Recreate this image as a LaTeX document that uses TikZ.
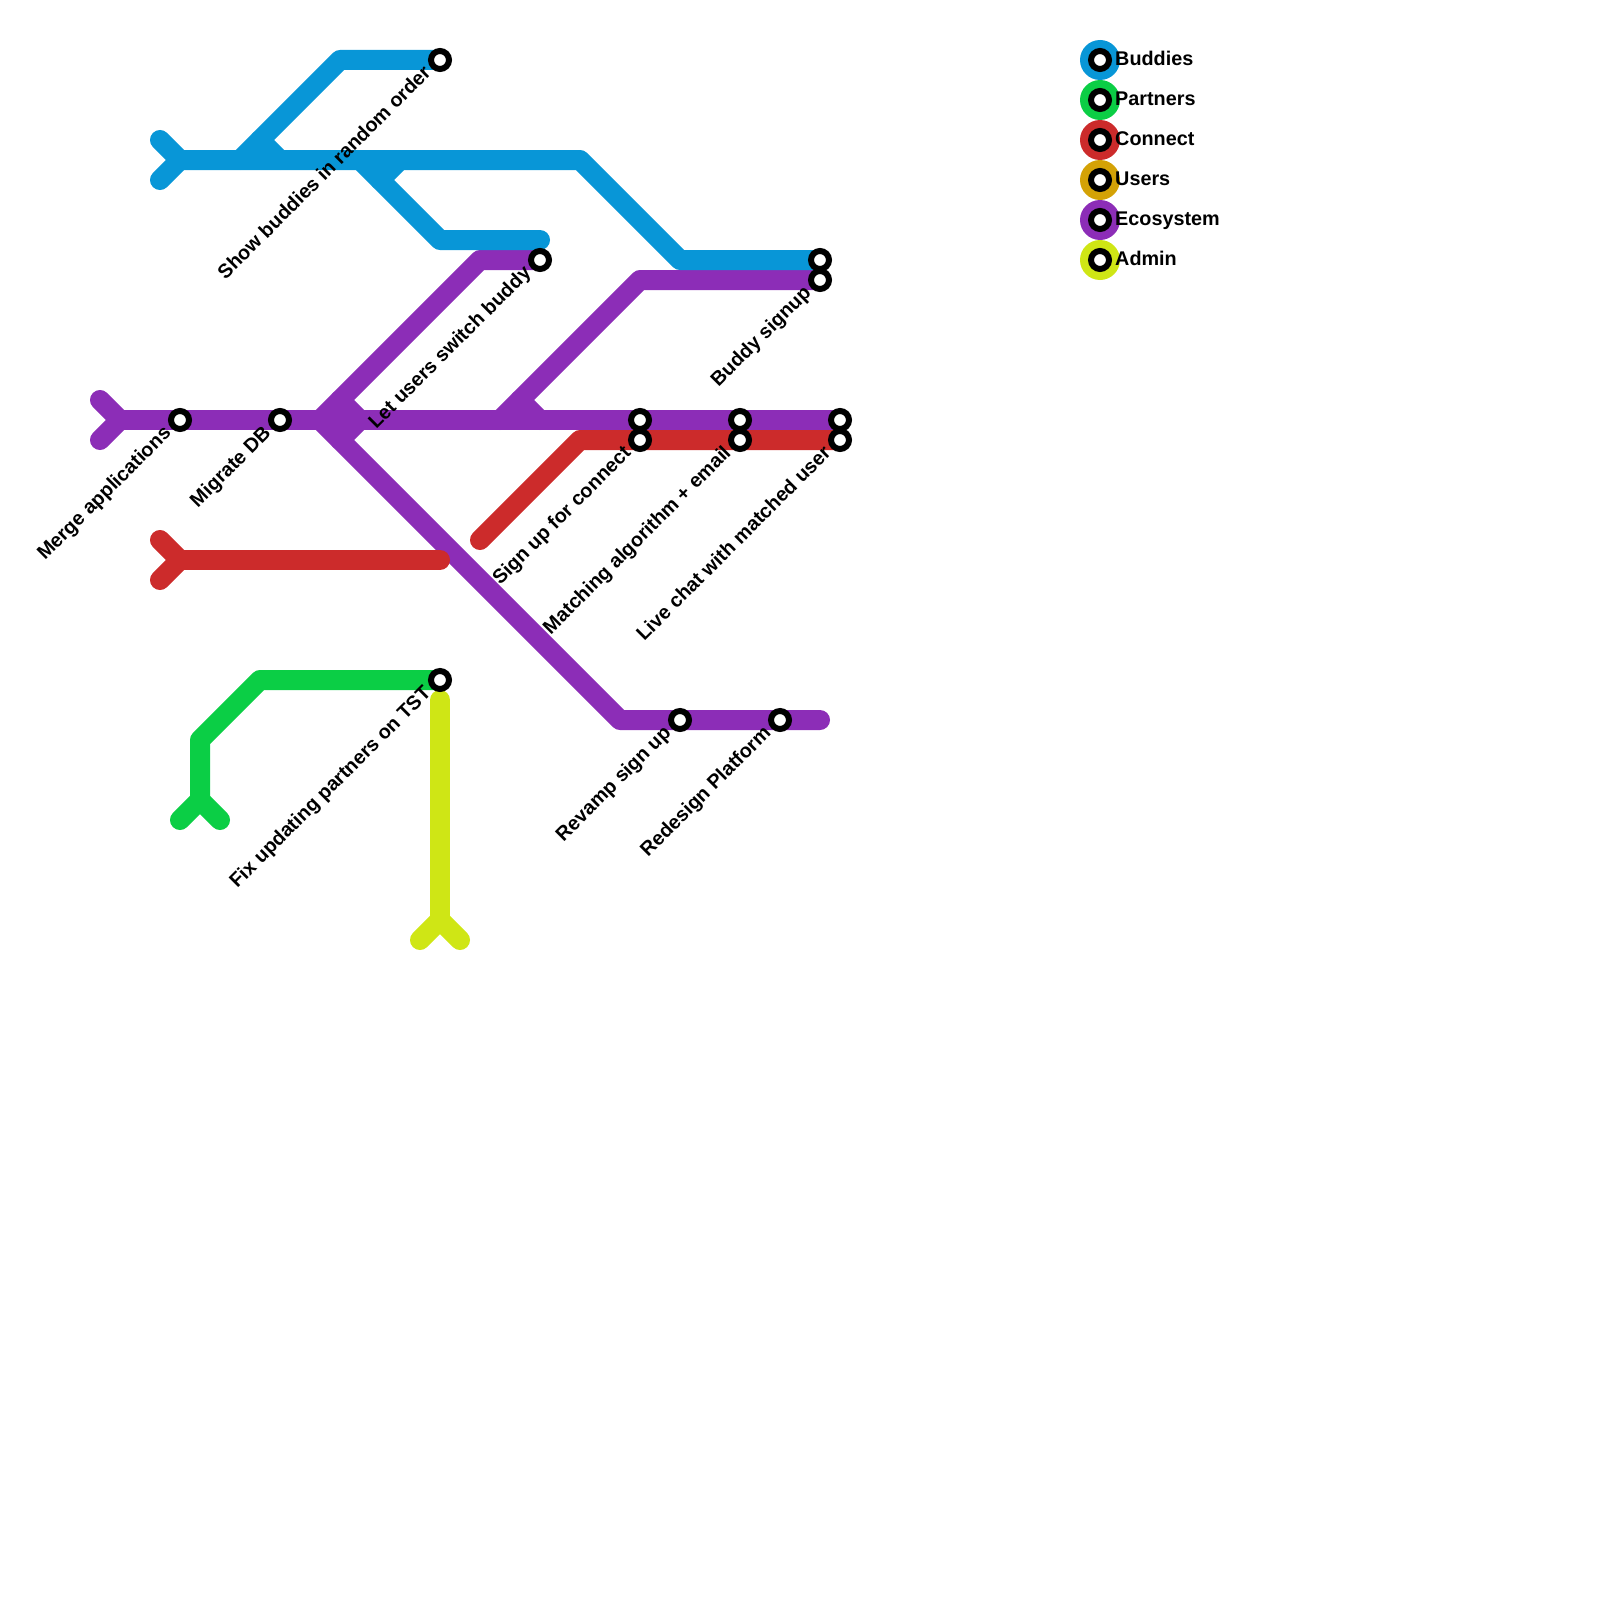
\documentclass[tikz,border=0pt]{standalone}
\usepackage{fontspec}
\setmainfont{Liberation Sans}
\definecolor{cBlue}{HTML}{0896D7}
\definecolor{cGreen}{HTML}{0BCE45}
\definecolor{cRed}{HTML}{CC2B2B}
\definecolor{cGold}{HTML}{D4A206}
\definecolor{cPurple}{HTML}{8C2DB7}
\definecolor{cLime}{HTML}{CFE615}
\tikzset{
  metro/.style={line width=20pt,line cap=round,line join=round},
  station/.style={circle,draw=black,fill=white,line width=6pt,minimum size=18pt,inner sep=0pt,outer sep=0pt},
  lbl/.style={anchor=base east,rotate=45,inner sep=0pt,font=\fontsize{19.8}{22}\selectfont\bfseries},
  legtext/.style={anchor=base west,inner sep=0pt,font=\fontsize{19.8}{22}\selectfont\bfseries},
  legdot/.style={circle,minimum size=40pt,inner sep=0pt,outer sep=0pt}
}
\begin{document}
\begin{tikzpicture}[x=1pt,y=-1pt]
\useasboundingbox (0,0) rectangle (1600,1600);
% station positions
\foreach \n/\x/\y in {sOrder/440/60,sSwitch/540/260,sBuddy/820/260,sEco/820/280,sMerge/180/420,sDB/280/420,
  sEcoA/640/420,sEcoB/740/420,sEcoC/840/420,sConA/640/440,sConB/740/440,sConC/840/440,sTST/440/680,sRevamp/680/720,sRedesign/780/720,
  pEcoEnd/820/720,pEcoTurn/620/720,pHub/320/420,pSwTurn/480/260,pBtTurn/640/280,pSprout/500/420,pBlueEnd/540/240}
  {\coordinate (\n) at (\x,\y);}
% Ecosystem
\draw[metro,cPurple] (100,400) -- (120,420) -- (100,440);
\draw[metro,cPurple] (120,420) -- (sEcoC);
\draw[metro,cPurple] (pHub) -- (pSwTurn) -- (sSwitch);
\draw[metro,cPurple] (340,400) -- (360,420) -- (340,440);
\draw[metro,cPurple] (pHub) -- (pEcoTurn) -- (pEcoEnd);
\draw[metro,cPurple] (pSprout) -- (pBtTurn) -- (sEco);
\draw[metro,cPurple] (520,400) -- (540,420);
% Buddies
\draw[metro,cBlue] (160,140) -- (180,160) -- (160,180);
\draw[metro,cBlue] (180,160) -- (580,160) -- (680,260) -- (sBuddy);
\draw[metro,cBlue] (240,160) -- (340,60) -- (sOrder);
\draw[metro,cBlue] (260,140) -- (280,160);
\draw[metro,cBlue] (360,160) -- (440,240) -- (pBlueEnd);
\draw[metro,cBlue] (380,180) -- (400,160);
% Connect
\draw[metro,cRed] (160,540) -- (180,560) -- (160,580);
\draw[metro,cRed] (180,560) -- (440,560);
\draw[metro,cRed] (480,540) -- (580,440) -- (sConC);
% Partners
\draw[metro,cGreen] (180,820) -- (200,800) -- (220,820);
\draw[metro,cGreen] (200,800) -- (200,740) -- (260,680) -- (sTST);
% Admin
\draw[metro,cLime] (420,940) -- (440,920) -- (460,940);
\draw[metro,cLime] (440,920) -- (440,700);
% stations
\foreach \n in {sOrder,sSwitch,sBuddy,sEco,sMerge,sDB,sEcoA,sEcoB,sEcoC,sConA,sConB,sConC,sTST,sRevamp,sRedesign}
  {\node[station] (st\n) at (\n) {};}
% labels
\foreach \n/\t in {sOrder/Show buddies in random order,sSwitch/Let users switch buddy,sEco/Buddy signup,sMerge/Merge applications,sDB/Migrate DB,
  sConA/Sign up for connect,sConB/Matching algorithm + email,sConC/Live chat with matched user,sTST/Fix updating partners on TST,sRevamp/Revamp sign up,sRedesign/Redesign Platform}
  {\node[lbl] (lab\n) at ([xshift=-8pt,yshift=-14pt]\n) {\t};}
% legend
\foreach \n/\y/\c/\t in {Buddies/60/cBlue/Buddies,Partners/100/cGreen/Partners,Connect/140/cRed/Connect,Users/180/cGold/Users,Ecosystem/220/cPurple/Ecosystem,Admin/260/cLime/Admin}{
  \node[legdot,fill=\c] (dot\n) at (1100,\y) {};
  \node[station] (ring\n) at (1100,\y) {};
  \node[legtext] (txt\n) at (1115,\y+5.5) {\t};
}
\end{tikzpicture}
\end{document}
